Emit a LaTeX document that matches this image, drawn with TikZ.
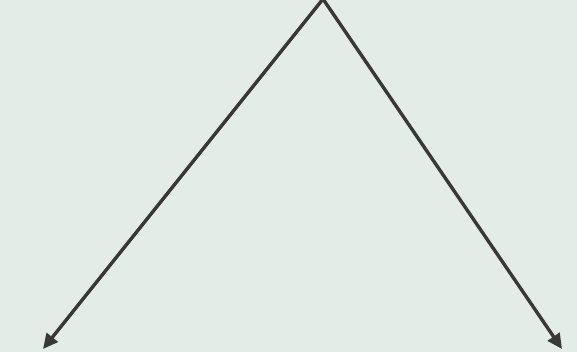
\documentclass[tikz,border=0pt]{standalone}
\usetikzlibrary{arrows.meta}
\definecolor{bgcolor}{HTML}{E3ECE7}
\definecolor{linecolor}{HTML}{383838}

\begin{document}
\begin{tikzpicture}[
  x=1pt, y=1pt,
  line cap=round,
  line join=round,
  branch/.style={draw=linecolor, line width=3.4pt,
    -{Triangle[length=15pt,width=14pt]}}
]
  \fill[bgcolor] (0,0) rectangle (577,352);
  \useasboundingbox (0,0) rectangle (577,352);

  \coordinate (top) at (323,353);
  \coordinate (left) at (43,3);
  \coordinate (right) at (562,3);

  \draw[branch] (top) -- (left);
  \draw[branch] (top) -- (right);
\end{tikzpicture}
\end{document}
